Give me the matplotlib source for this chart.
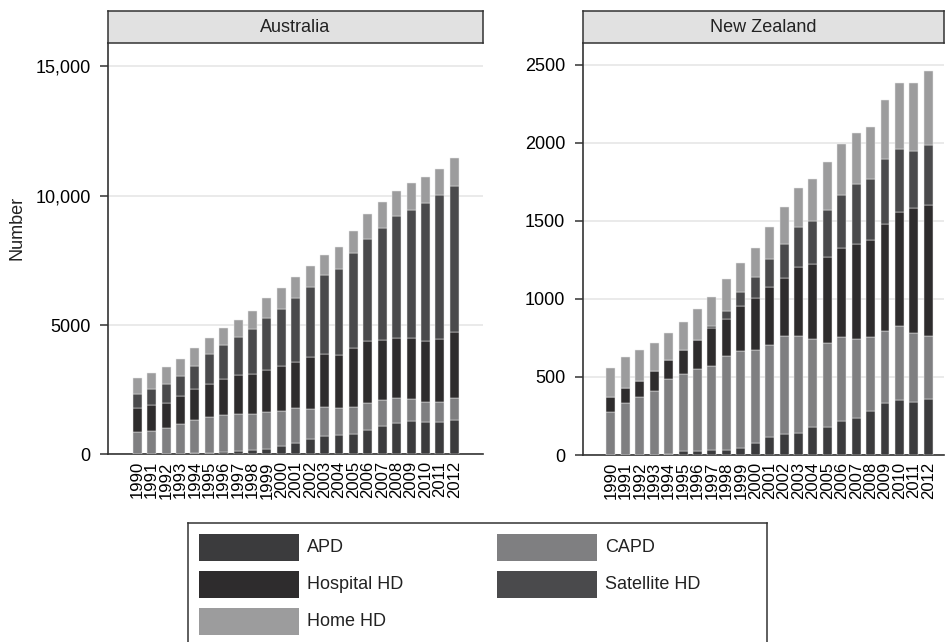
import matplotlib
matplotlib.use("Agg")
import matplotlib.pyplot as plt
from matplotlib.patches import Rectangle
from matplotlib.ticker import FuncFormatter
import numpy as np

plt.rcParams['font.family'] = ['Liberation Sans', 'DejaVu Sans']
plt.rcParams['text.color'] = '#222222'

years = [str(y) for y in range(1990, 2013)]
modalities = ["APD", "CAPD", "Hospital HD", "Satellite HD", "Home HD"]
colors = ["#3b3b3d", "#7f7f81", "#2e2c2d", "#4a4a4c", "#9c9c9d"]

# Australia
aus_apd = [0, 0, 0, 0, 50, 64, 103, 142, 168, 219, 335, 451, 593, 709, 748, 773,
           941, 1096, 1225, 1276, 1250, 1250, 1328]
aus_capd = [864, 902, 1018, 1186, 1265, 1393, 1418, 1418, 1392, 1405, 1341, 1328,
            1160, 1121, 1031, 1057, 1044, 992, 953, 864, 774, 761, 838]
aus_hosp = [941, 1006, 980, 1083, 1199, 1276, 1379, 1508, 1546, 1637, 1740, 1804,
            1998, 2063, 2062, 2295, 2410, 2333, 2334, 2372, 2359, 2436, 2565]
aus_sat = [541, 618, 735, 760, 902, 1134, 1328, 1456, 1741, 2024, 2217, 2475,
           2707, 3029, 3339, 3673, 3932, 4331, 4704, 4949, 5336, 5581, 5658]
aus_home = [593, 606, 644, 671, 683, 645, 644, 671, 696, 748, 799, 799,
            825, 786, 825, 838, 954, 993, 967, 1031, 1006, 1006, 1070]

# New Zealand
nz_apd = [0, 0, 0, 0, 4, 24, 28, 34, 34, 47, 75, 113, 132, 143, 177, 182,
          218, 237, 282, 333, 350, 340, 359]
nz_capd = [274, 331, 372, 410, 481, 495, 523, 539, 599, 618, 598, 594, 631, 620,
           565, 536, 539, 505, 475, 464, 479, 444, 406]
nz_hosp = [98, 96, 100, 129, 122, 152, 188, 239, 241, 292, 336, 368, 372, 442,
           480, 551, 568, 611, 621, 684, 729, 797, 836]
nz_sat = [0, 0, 0, 0, 0, 0, 0, 15, 51, 90, 132, 179, 220, 257, 278, 302, 342,
          384, 391, 415, 402, 368, 389]
nz_home = [184, 201, 201, 179, 177, 180, 197, 188, 201, 184, 186, 208, 237, 248,
           272, 305, 327, 329, 334, 382, 425, 438, 474]

W, H = 947, 642
FS = 13
FS_YEAR = 12
fig = plt.figure(figsize=(W / 100, H / 100), dpi=100)


def px_rect(left, top, right, bottom):
    return [left / W, 1 - bottom / H, (right - left) / W, (bottom - top) / H]


def thousands(v, pos):
    v = int(round(v))
    return f"{v:,}" if v >= 10000 else str(v)


def panel(box, title, series, ymax, yticks, xlim, fmt=None):
    left, top, right, bottom = box
    ax = fig.add_axes(px_rect(left, top, right, bottom))
    x = np.arange(len(years))
    base = np.zeros(len(years))
    for vals, c in zip(series, colors):
        vals = np.asarray(vals, dtype=float)
        ax.bar(x, vals, bottom=base, width=0.62, color=c, edgecolor='#e8e8e8',
               linewidth=0.35, zorder=3)
        base += vals
    ax.set_xlim(*xlim)
    ax.set_ylim(0, ymax)
    ax.set_yticks(yticks)
    if fmt:
        ax.yaxis.set_major_formatter(FuncFormatter(fmt))
    ax.set_xticks(x)
    ax.set_xticklabels(years, rotation=90, fontsize=FS_YEAR)
    ax.tick_params(axis='x', length=0, pad=5)
    ax.tick_params(axis='y', length=6, width=1.1, pad=6.5, labelsize=FS,
                   color='#333333')
    ax.grid(axis='y', color='#e4e4e4', linewidth=1.1, zorder=0)
    ax.set_axisbelow(True)
    for s in ('top', 'right'):
        ax.spines[s].set_visible(False)
    for s in ('left', 'bottom'):
        ax.spines[s].set_color('#333333')
        ax.spines[s].set_linewidth(1.2)
    # panel strip
    st = fig.add_axes(px_rect(left, 10.7, right, top))
    st.set_facecolor('#e1e1e1')
    st.set_xticks([])
    st.set_yticks([])
    for s in st.spines.values():
        s.set_color('#333333')
        s.set_linewidth(1.1)
    st.text(0.5, 0.48, title, ha='center', va='center', fontsize=FS,
            transform=st.transAxes)
    return ax


ax1 = panel((108, 43, 483, 454.3), "Australia",
            [aus_apd, aus_capd, aus_hosp, aus_sat, aus_home],
            15905, [0, 5000, 10000, 15000], (-2.03, 23.99), thousands)
ax2 = panel((582.7, 43, 944, 455), "New Zealand",
            [nz_apd, nz_capd, nz_hosp, nz_sat, nz_home],
            2641, [0, 500, 1000, 1500, 2000, 2500], (-1.96, 23.09))

fig.text(17 / W, 1 - 228 / H, "Number", rotation=90, ha='center', va='center',
         fontsize=FS)

# legend box
lg = fig.add_axes(px_rect(188.3, 523.3, 767.3, 645))
lg.set_xlim(188.3, 767.3)
lg.set_ylim(645, 523.3)
lg.set_xticks([])
lg.set_yticks([])
lg.patch.set_alpha(0)
for s in lg.spines.values():
    s.set_color('#333333')
    s.set_linewidth(1.1)
slots = [(199.3, 534.3), (497.3, 534.3), (199.3, 571.3), (497.3, 571.3),
         (199.3, 608)]
for (lx, ly), name, c in zip(slots, modalities, colors):
    lg.add_patch(Rectangle((lx, ly), 100, 26.5, facecolor=c, edgecolor='none'))
    lg.text(lx + 108, ly + 13.5, name, ha='left', va='center', fontsize=FS)

fig.savefig("out.png", dpi=100)
